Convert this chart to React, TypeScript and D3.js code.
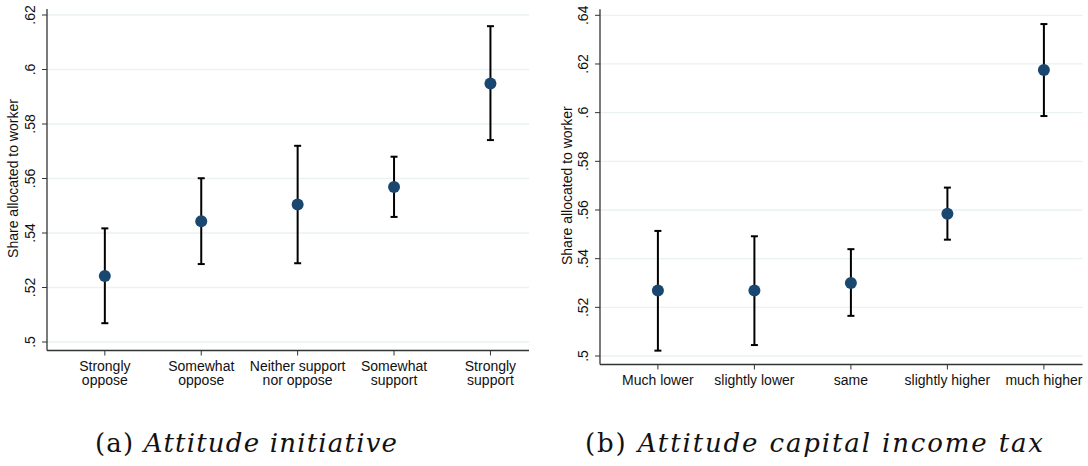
import React from "react";
import * as d3 from "d3";

// Panel (a): attitude towards the initiative
const initiativeLabels = [
  ["Strongly", "oppose"],
  ["Somewhat", "oppose"],
  ["Neither support", "nor oppose"],
  ["Somewhat", "support"],
  ["Strongly", "support"],
];
const initiativeMean = [0.5242, 0.5443, 0.5505, 0.5569, 0.5949];
const initiativeLow = [0.5069, 0.5286, 0.5289, 0.5459, 0.5741];
const initiativeHigh = [0.5417, 0.5601, 0.572, 0.568, 0.6159];
const initiativeTicks = [0.5, 0.52, 0.54, 0.56, 0.58, 0.6, 0.62];

// Panel (b): attitude towards the capital income tax
const taxLabels = [
  ["Much lower"],
  ["slightly lower"],
  ["same"],
  ["slightly higher"],
  ["much higher"],
];
const taxMean = [0.5269, 0.5269, 0.53, 0.5585, 0.6175];
const taxLow = [0.5022, 0.5045, 0.5165, 0.5478, 0.5986];
const taxHigh = [0.5514, 0.5492, 0.5439, 0.5692, 0.6364];
const taxTicks = [0.5, 0.52, 0.54, 0.56, 0.58, 0.6, 0.62, 0.64];

const yTitle = "Share allocated to worker";
const MARKER = "#1a476f";
const GRID = "#eaf2f3";
const SANS = "'Liberation Sans', Arial, sans-serif";
const SERIF = "'DejaVu Serif', serif";

const fmt = (v: number) => d3.format(".2~f")(v).replace(/^0/, "");

type PanelProps = {
  left: number;
  right: number;
  top: number;
  bottom: number;
  yDomain: [number, number];
  ticks: number[];
  labels: string[][];
  mean: number[];
  low: number[];
  high: number[];
  titleX: number;
  tickLabelX: number;
};

function Panel(p: PanelProps) {
  const x = d3.scaleLinear().domain([0.4, 5.4]).range([p.left, p.right]);
  const y = d3.scaleLinear().domain(p.yDomain).range([p.bottom, p.top]);
  const axisY = y.range()[0] + 8.5;
  const midY = (p.top + p.bottom) / 2;
  return (
    <g>
      {p.ticks.map((t) => (
        <g key={t}>
          <line x1={p.left} x2={p.right} y1={y(t)} y2={y(t)} stroke={GRID} strokeWidth={1.3} />
          <line x1={p.left - 5} x2={p.left} y1={y(t)} y2={y(t)} stroke="#333" strokeWidth={1} />
          <text
            transform={`translate(${p.tickLabelX},${y(t)}) rotate(-90)`}
            textAnchor="middle"
            fontFamily={SANS}
            fontSize={14}
            fill="#111"
          >
            {fmt(t)}
          </text>
        </g>
      ))}
      <text
        transform={`translate(${p.titleX},${midY}) rotate(-90)`}
        textAnchor="middle"
        fontFamily={SANS}
        fontSize={14}
        fill="#111"
      >
        {yTitle}
      </text>
      <line x1={p.left} x2={p.left} y1={p.top - 6} y2={axisY} stroke="#333" strokeWidth={1.3} />
      <line x1={p.left} x2={p.right} y1={axisY} y2={axisY} stroke="#333" strokeWidth={1.3} />
      {p.labels.map((lab, i) => (
        <g key={i}>
          <line x1={x(i + 1)} x2={x(i + 1)} y1={axisY} y2={axisY + 5} stroke="#333" strokeWidth={1} />
          {lab.map((line, j) => (
            <text
              key={j}
              x={x(i + 1)}
              y={axisY + 20 + j * 14}
              textAnchor="middle"
              fontFamily={SANS}
              fontSize={14}
              fill="#111"
            >
              {line}
            </text>
          ))}
        </g>
      ))}
      {p.mean.map((m, i) => {
        const cx = x(i + 1);
        return (
          <g key={i}>
            <line x1={cx} x2={cx} y1={y(p.low[i])} y2={y(p.high[i])} stroke="#000" strokeWidth={2} />
            <line x1={cx - 3.5} x2={cx + 3.5} y1={y(p.low[i])} y2={y(p.low[i])} stroke="#000" strokeWidth={2} />
            <line x1={cx - 3.5} x2={cx + 3.5} y1={y(p.high[i])} y2={y(p.high[i])} stroke="#000" strokeWidth={2} />
            <circle cx={cx} cy={y(m)} r={6} fill={MARKER} />
          </g>
        );
      })}
    </g>
  );
}

export default function App() {
  return (
    <svg
      width={1088}
      height={466}
      style={{ position: "absolute", left: 0, top: 0, background: "#fff" }}
    >
      <rect width={1088} height={466} fill="#fff" />
      <Panel
        left={47}
        right={529}
        top={15}
        bottom={342}
        yDomain={[0.5, 0.62]}
        ticks={initiativeTicks}
        labels={initiativeLabels}
        mean={initiativeMean}
        low={initiativeLow}
        high={initiativeHigh}
        titleX={18}
        tickLabelX={35}
      />
      <Panel
        left={600}
        right={1082.5}
        top={15.3}
        bottom={356}
        yDomain={[0.5, 0.64]}
        ticks={taxTicks}
        labels={taxLabels}
        mean={taxMean}
        low={taxLow}
        high={taxHigh}
        titleX={572}
        tickLabelX={588}
      />
      <text x={95} y={452} textLength={302} lengthAdjust="spacing" fontFamily={SERIF} fontSize={26} fill="#111">
        (a) <tspan fontStyle="italic">Attitude initiative</tspan>
      </text>
      <text x={585} y={452} textLength={458} lengthAdjust="spacing" fontFamily={SERIF} fontSize={26} fill="#111">
        (b) <tspan fontStyle="italic">Attitude capital income tax</tspan>
      </text>
    </svg>
  );
}
